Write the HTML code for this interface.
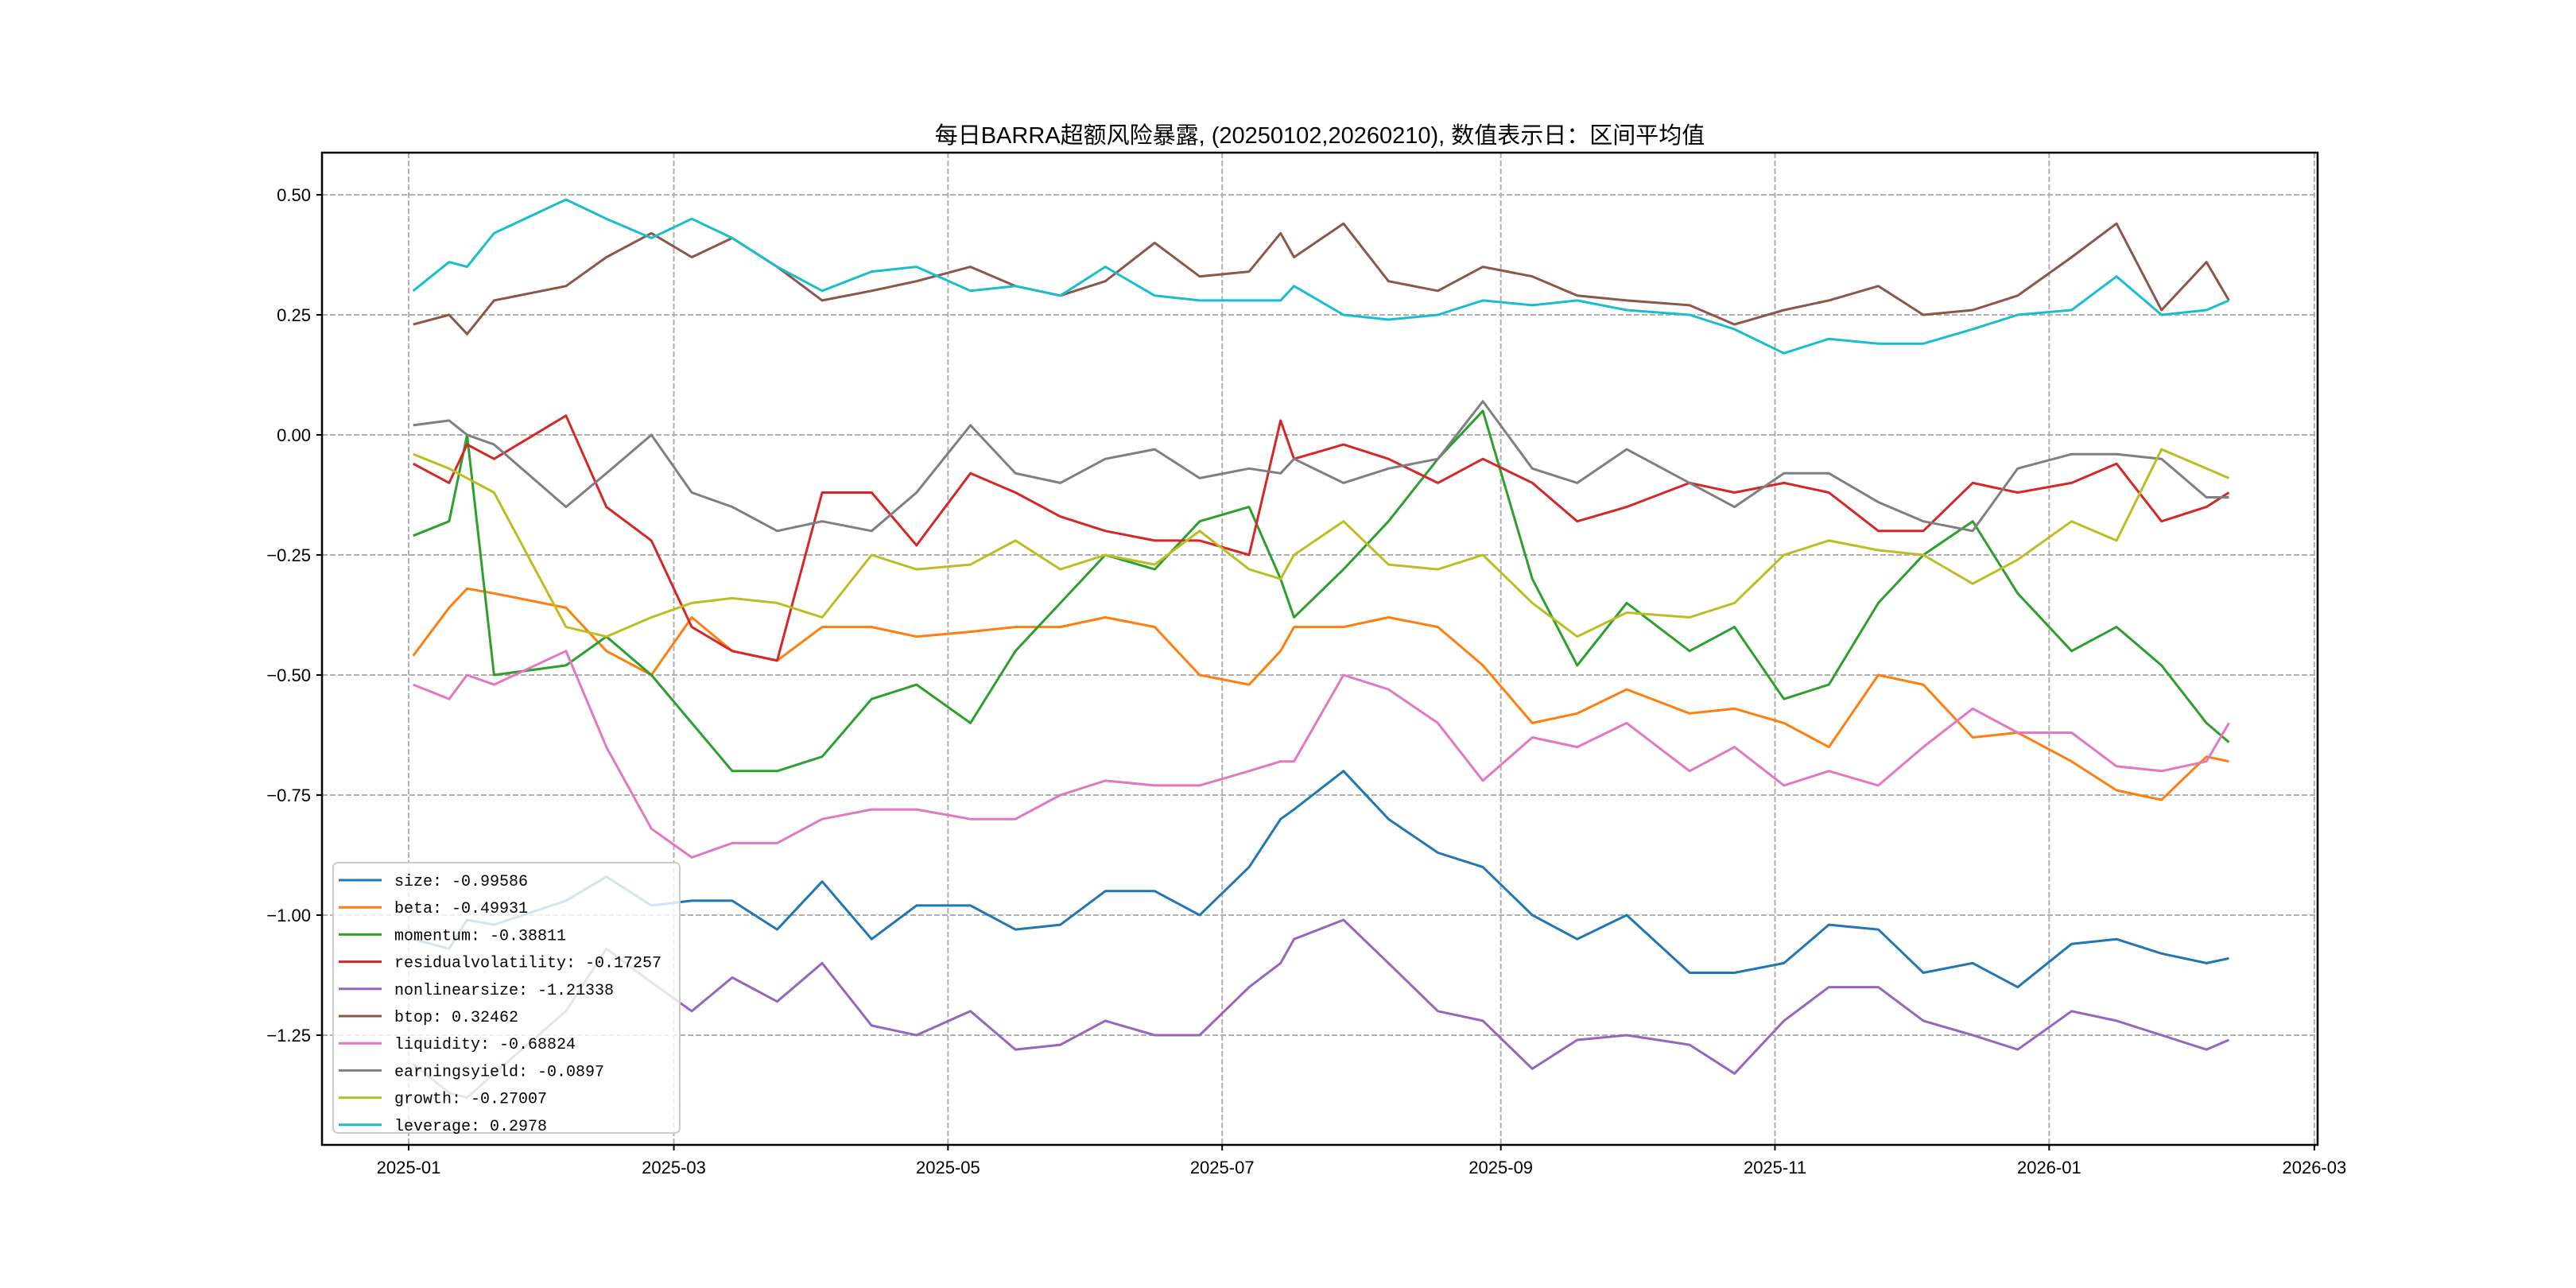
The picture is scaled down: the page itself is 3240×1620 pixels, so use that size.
<!DOCTYPE html>
<html><head><meta charset="utf-8"><style>
html,body{margin:0;padding:0;background:#fff;}
svg{display:block;}
text{font-family:"Liberation Sans","WenQuanYi Zen Hei","Noto Sans CJK SC",sans-serif;}
.mono{font-family:"Liberation Mono","WenQuanYi Zen Hei",monospace;}
</style></head><body>
<svg id="chart" width="3240" height="1620" viewBox="0 0 3240 1620" xmlns="http://www.w3.org/2000/svg">
<rect width="3240" height="1620" fill="#fff"/>
<text x="1660" y="180" font-size="29" text-anchor="middle" font-family="'Noto Sans CJK SC','WenQuanYi Zen Hei',sans-serif">每日BARRA超额风险暴露, (20250102,20260210),  数值表示日：区间平均值</text>
<g id="grid"></g><g id="series"></g><g id="axes"></g><g id="legend"></g>
</svg>
<script>
const dates=["2025-01-02","2025-01-10","2025-01-14","2025-01-20","2025-02-05","2025-02-14","2025-02-24","2025-03-05","2025-03-14","2025-03-24","2025-04-03","2025-04-14","2025-04-24","2025-05-06","2025-05-16","2025-05-26","2025-06-05","2025-06-16","2025-06-26","2025-07-07","2025-07-14","2025-07-17","2025-07-28","2025-08-07","2025-08-18","2025-08-28","2025-09-08","2025-09-18","2025-09-29","2025-10-13","2025-10-23","2025-11-03","2025-11-13","2025-11-24","2025-12-04","2025-12-15","2025-12-25","2026-01-06","2026-01-16","2026-01-26","2026-02-05","2026-02-10"];
const size=[-1.05,-1.07,-1.01,-1.02,-0.97,-0.92,-0.98,-0.97,-0.97,-1.03,-0.93,-1.05,-0.98,-0.98,-1.03,-1.02,-0.95,-0.95,-1.00,-0.90,-0.80,-0.78,-0.70,-0.80,-0.87,-0.90,-1.00,-1.05,-1.00,-1.12,-1.12,-1.10,-1.02,-1.03,-1.12,-1.10,-1.15,-1.06,-1.05,-1.08,-1.10,-1.09];
const beta=[-0.46,-0.36,-0.32,-0.33,-0.36,-0.45,-0.50,-0.38,-0.45,-0.47,-0.40,-0.40,-0.42,-0.41,-0.40,-0.40,-0.38,-0.40,-0.50,-0.52,-0.45,-0.40,-0.40,-0.38,-0.40,-0.48,-0.60,-0.58,-0.53,-0.58,-0.57,-0.60,-0.65,-0.50,-0.52,-0.63,-0.62,-0.68,-0.74,-0.76,-0.67,-0.68];
const momentum=[-0.21,-0.18,0.00,-0.50,-0.48,-0.42,-0.50,-0.60,-0.70,-0.70,-0.67,-0.55,-0.52,-0.60,-0.45,-0.35,-0.25,-0.28,-0.18,-0.15,-0.30,-0.38,-0.28,-0.18,-0.05,0.05,-0.30,-0.48,-0.35,-0.45,-0.40,-0.55,-0.52,-0.35,-0.25,-0.18,-0.33,-0.45,-0.40,-0.48,-0.60,-0.64];
const residualvolatility=[-0.06,-0.10,-0.02,-0.05,0.04,-0.15,-0.22,-0.40,-0.45,-0.47,-0.12,-0.12,-0.23,-0.08,-0.12,-0.17,-0.20,-0.22,-0.22,-0.25,0.03,-0.05,-0.02,-0.05,-0.10,-0.05,-0.10,-0.18,-0.15,-0.10,-0.12,-0.10,-0.12,-0.20,-0.20,-0.10,-0.12,-0.10,-0.06,-0.18,-0.15,-0.12];
const nonlinearsize=[-1.31,-1.37,-1.38,-1.33,-1.20,-1.07,-1.14,-1.20,-1.13,-1.18,-1.10,-1.23,-1.25,-1.20,-1.28,-1.27,-1.22,-1.25,-1.25,-1.15,-1.10,-1.05,-1.01,-1.10,-1.20,-1.22,-1.32,-1.26,-1.25,-1.27,-1.33,-1.22,-1.15,-1.15,-1.22,-1.25,-1.28,-1.20,-1.22,-1.25,-1.28,-1.26];
const btop=[0.23,0.25,0.21,0.28,0.31,0.37,0.42,0.37,0.41,0.35,0.28,0.30,0.32,0.35,0.31,0.29,0.32,0.40,0.33,0.34,0.42,0.37,0.44,0.32,0.30,0.35,0.33,0.29,0.28,0.27,0.23,0.26,0.28,0.31,0.25,0.26,0.29,0.37,0.44,0.26,0.36,0.28];
const liquidity=[-0.52,-0.55,-0.50,-0.52,-0.45,-0.65,-0.82,-0.88,-0.85,-0.85,-0.80,-0.78,-0.78,-0.80,-0.80,-0.75,-0.72,-0.73,-0.73,-0.70,-0.68,-0.68,-0.50,-0.53,-0.60,-0.72,-0.63,-0.65,-0.60,-0.70,-0.65,-0.73,-0.70,-0.73,-0.65,-0.57,-0.62,-0.62,-0.69,-0.70,-0.68,-0.60];
const earningsyield=[0.02,0.03,0.00,-0.02,-0.15,-0.08,0.00,-0.12,-0.15,-0.20,-0.18,-0.20,-0.12,0.02,-0.08,-0.10,-0.05,-0.03,-0.09,-0.07,-0.08,-0.05,-0.10,-0.07,-0.05,0.07,-0.07,-0.10,-0.03,-0.10,-0.15,-0.08,-0.08,-0.14,-0.18,-0.20,-0.07,-0.04,-0.04,-0.05,-0.13,-0.13];
const growth=[-0.04,-0.07,-0.09,-0.12,-0.40,-0.42,-0.38,-0.35,-0.34,-0.35,-0.38,-0.25,-0.28,-0.27,-0.22,-0.28,-0.25,-0.27,-0.20,-0.28,-0.30,-0.25,-0.18,-0.27,-0.28,-0.25,-0.35,-0.42,-0.37,-0.38,-0.35,-0.25,-0.22,-0.24,-0.25,-0.31,-0.26,-0.18,-0.22,-0.03,-0.07,-0.09];
const leverage=[0.30,0.36,0.35,0.42,0.49,0.45,0.41,0.45,0.41,0.35,0.30,0.34,0.35,0.30,0.31,0.29,0.35,0.29,0.28,0.28,0.28,0.31,0.25,0.24,0.25,0.28,0.27,0.28,0.26,0.25,0.22,0.17,0.20,0.19,0.19,0.22,0.25,0.26,0.33,0.25,0.26,0.28];
const seriesNames=["size","beta","momentum","residualvolatility","nonlinearsize","btop","liquidity","earningsyield","growth","leverage"];
const legendLabels=["size: -0.99586","beta: -0.49931","momentum: -0.38811","residualvolatility: -0.17257","nonlinearsize: -1.21338","btop: 0.32462","liquidity: -0.68824","earningsyield: -0.0897","growth: -0.27007","leverage: 0.2978"];
const yTicks=[0.5,0.25,0,-0.25,-0.5,-0.75,-1.0,-1.25];
const yTickLabels=["0.50","0.25","0.00","−0.25","−0.50","−0.75","−1.00","−1.25"];
const xTicks=["2025-01-01","2025-03-01","2025-05-01","2025-07-01","2025-09-01","2025-11-01","2026-01-01","2026-03-01"];
const xTickLabels=["2025-01","2025-03","2025-05","2025-07","2025-09","2025-11","2026-01","2026-03"];

const colors=["#1f77b4","#ff7f0e","#2ca02c","#d62728","#9467bd","#8c564b","#e377c2","#7f7f7f","#bcbd22","#17becf"];
const dataMap={size,beta,momentum,residualvolatility,nonlinearsize,btop,liquidity,earningsyield,growth,leverage};
const L=405,R=2915,T=192,B=1440;
const t0=Date.UTC(2025,0,1);
function dayOf(s){const p=s.split('-');return (Date.UTC(+p[0],+p[1]-1,+p[2])-t0)/86400000;}
function xS(s){return 514+dayOf(s)*5.653;}
function yS(v){return 547-v*604;}
const NS="http://www.w3.org/2000/svg";
function mk(tag,attrs,parent){const e=document.createElementNS(NS,tag);for(const k in attrs)e.setAttribute(k,attrs[k]);parent.appendChild(e);return e;}
const grid=document.getElementById('grid'),ser=document.getElementById('series'),ax=document.getElementById('axes'),lg=document.getElementById('legend');
yTicks.forEach((v,i)=>{
  const y=yS(v);
  const g=mk('line',{x1:L,x2:R,y1:y,y2:y,stroke:'#b0b0b0','stroke-width':2,'stroke-dasharray':'7,3'},grid);
  
  
  const tk=mk('line',{x1:L-7,x2:L,y1:y,y2:y,stroke:'#000','stroke-width':2},ax);
  
  
  const t=mk('text',{x:L-14,y:y+8,'font-size':22,'text-anchor':'end'},ax);
  t.textContent=yTickLabels[i];
  
  
});
xTicks.forEach((d,i)=>{
  const x=xS(d);
  const g=mk('line',{x1:x,x2:x,y1:T,y2:B,stroke:'#b0b0b0','stroke-width':2,'stroke-dasharray':'7,3'},grid);
  
  
  const tk=mk('line',{x1:x,x2:x,y1:B,y2:B+7,stroke:'#000','stroke-width':2},ax);
  
  
  const t=mk('text',{x:x,y:B+36,'font-size':22,'text-anchor':'middle'},ax);
  t.textContent=xTickLabels[i];
  
  
});
seriesNames.forEach((n,i)=>{
  const vals=dataMap[n];
  const pts=vals.map((v,j)=>xS(dates[j]).toFixed(1)+','+yS(v).toFixed(1)).join(' ');
  const p=mk('polyline',{points:pts,fill:'none',stroke:colors[i],'stroke-width':3,'stroke-linejoin':'round'},ser);
  
  
});
const frame=mk('rect',{x:L,y:T,width:R-L,height:B-T,fill:'none',stroke:'#000','stroke-width':2.5},ax);


const box=mk('rect',{x:419,y:1085,width:436,height:340,rx:6,fill:'#fff','fill-opacity':0.8,stroke:'#ccc','stroke-width':2},lg);


legendLabels.forEach((s,i)=>{
  const y=1107+i*34.2;
  const ln=mk('line',{x1:426,x2:480,y1:y,y2:y,stroke:colors[i],'stroke-width':3},lg);
  
  
  const t=mk('text',{x:496,y:y+7,'font-size':20,class:'mono'},lg);
  t.textContent=s;
  
  
});
</script>
</body></html>
